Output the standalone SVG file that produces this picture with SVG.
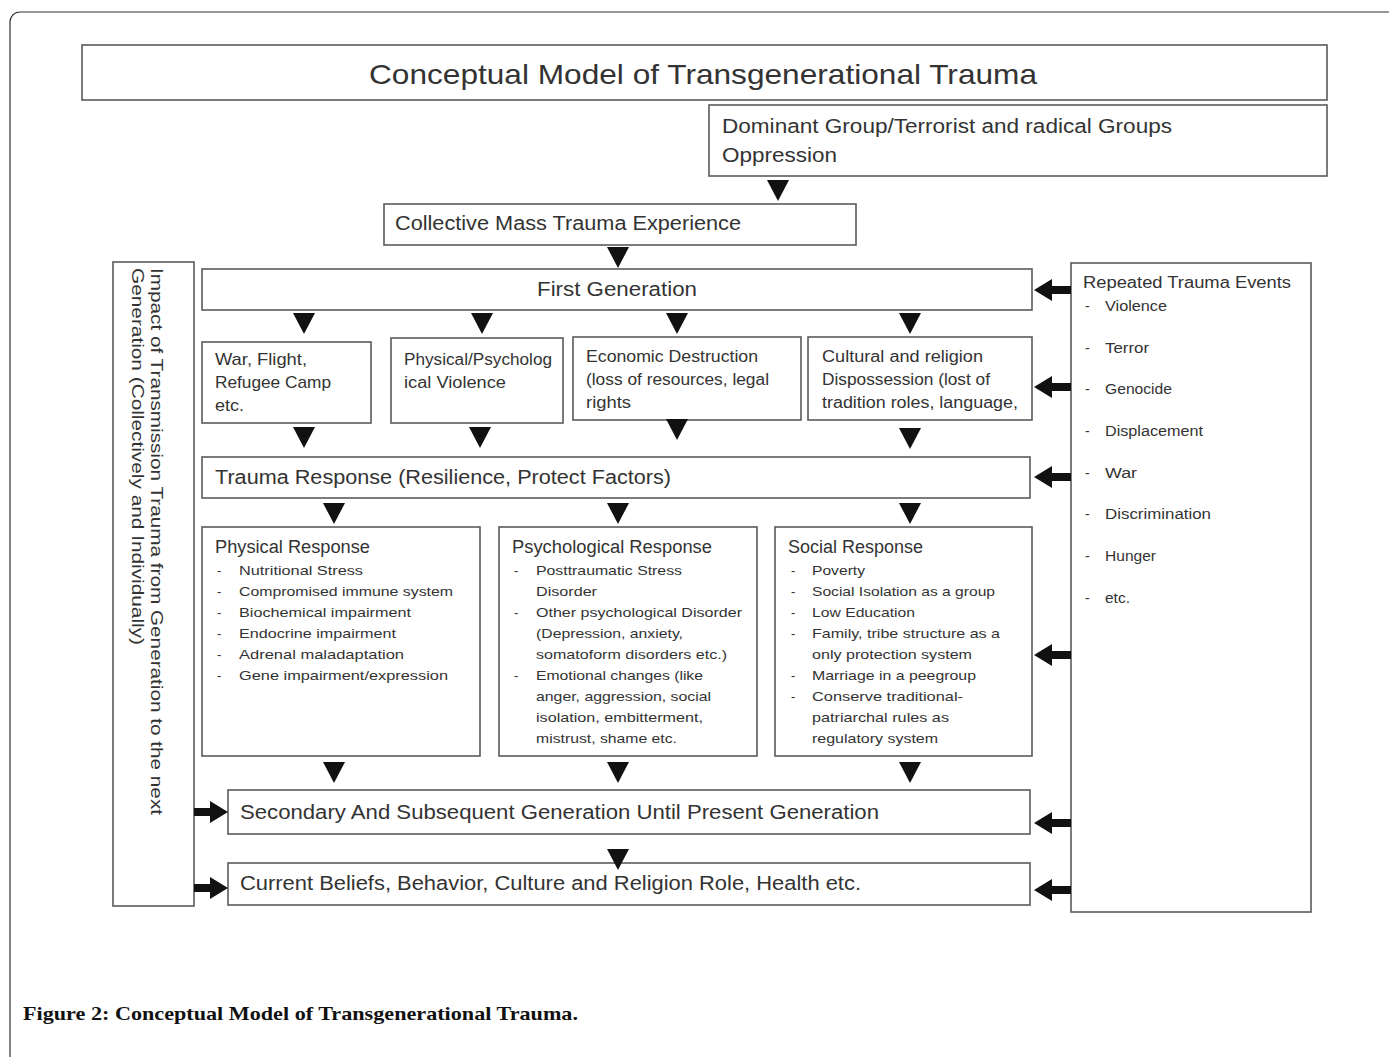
<svg xmlns="http://www.w3.org/2000/svg" xmlns:xlink="http://www.w3.org/1999/xlink" width="1389" height="1057" viewBox="0 0 1389 1057">
<style>
.box{fill:#fff;stroke:#5a5a5a;stroke-width:1.6}
.frame{fill:#fff;stroke:#333;stroke-width:1.2}
text{font-family:"Liberation Sans",Arial,sans-serif;fill:#333}
.t28{font-size:28px}
.t20{font-size:20px}
.t18{font-size:18px}
.t17{font-size:17px}
.t16{font-size:16px}
.t14{font-size:14px}
.t13{font-size:13px}
.cap{font-family:"Liberation Serif","Times New Roman",serif;font-weight:bold;font-size:19px;fill:#111}
.arr{fill:#111}
</style>
<defs>
<path id="aDown" d="M-11,0 L11,0 L0,21 Z"/>
<path id="aLeft" d="M0,0 L18,-11 L18,-4 L37,-4 L37,4 L18,4 L18,11 Z"/>
<path id="aRight" d="M0,0 L-18,-11 L-18,-4 L-34,-4 L-34,4 L-18,4 L-18,11 Z"/>
</defs>
<rect width="1389" height="1057" fill="#fff"/>
<rect class="frame" x="10" y="12" width="1400" height="1100" rx="10"/>

<g id="title">
<rect class="box" x="82" y="45" width="1245" height="55"/>
<text class="t28" x="369" y="84" textLength="668" lengthAdjust="spacingAndGlyphs">Conceptual Model of Transgenerational Trauma</text>
</g>
<g id="dominant">
<rect class="box" x="709" y="105" width="618" height="71"/>
<text class="t20" x="722" y="133" textLength="450" lengthAdjust="spacingAndGlyphs">Dominant Group/Terrorist and radical Groups</text>
<text class="t20" x="722" y="162" textLength="115" lengthAdjust="spacingAndGlyphs">Oppression</text>
</g>
<g id="collective">
<rect class="box" x="384" y="204" width="472" height="41"/>
<text class="t20" x="395" y="230" textLength="346" lengthAdjust="spacingAndGlyphs">Collective Mass Trauma Experience</text>
</g>
<g id="impact">
<rect class="box" x="113" y="262" width="81" height="644"/>
<text class="t17" transform="translate(151,268) rotate(90)" textLength="547" lengthAdjust="spacingAndGlyphs">Impact of Transmission Trauma from Generation to the next</text>
<text class="t17" transform="translate(132,268) rotate(90)" textLength="377" lengthAdjust="spacingAndGlyphs">Generation (Collectively and Individually)</text>
</g>
<g id="first-generation">
<rect class="box" x="202" y="269" width="830" height="41"/>
<text class="t20" x="537" y="296" textLength="160" lengthAdjust="spacingAndGlyphs">First Generation</text>
</g>
<g id="war">
<rect class="box" x="202" y="342" width="169" height="81"/>
<text class="t17" x="215" y="365" textLength="92" lengthAdjust="spacingAndGlyphs">War, Flight,</text>
<text class="t17" x="215" y="388" textLength="116" lengthAdjust="spacingAndGlyphs">Refugee Camp</text>
<text class="t17" x="215" y="411" textLength="29" lengthAdjust="spacingAndGlyphs">etc.</text>
</g>
<g id="violence">
<rect class="box" x="391" y="338" width="172" height="85"/>
<text class="t16" x="404" y="365" textLength="148" lengthAdjust="spacingAndGlyphs">Physical/Psycholog</text>
<text class="t16" x="404" y="388" textLength="102" lengthAdjust="spacingAndGlyphs">ical Violence</text>
</g>
<g id="economic">
<rect class="box" x="573" y="337" width="228" height="83"/>
<text class="t16" x="586" y="362" textLength="172" lengthAdjust="spacingAndGlyphs">Economic Destruction</text>
<text class="t16" x="586" y="385" textLength="183" lengthAdjust="spacingAndGlyphs">(loss of resources, legal</text>
<text class="t16" x="586" y="408" textLength="45" lengthAdjust="spacingAndGlyphs">rights</text>
</g>
<g id="cultural">
<rect class="box" x="808" y="337" width="224" height="83"/>
<text class="t16" x="822" y="362" textLength="161" lengthAdjust="spacingAndGlyphs">Cultural and religion</text>
<text class="t16" x="822" y="385" textLength="168" lengthAdjust="spacingAndGlyphs">Dispossession (lost of</text>
<text class="t16" x="822" y="408" textLength="196" lengthAdjust="spacingAndGlyphs">tradition roles, language,</text>
</g>
<g id="trauma-response">
<rect class="box" x="202" y="457" width="828" height="41"/>
<text class="t20" x="215" y="484" textLength="456" lengthAdjust="spacingAndGlyphs">Trauma Response (Resilience, Protect Factors)</text>
</g>
<g id="physical-response">
<rect class="box" x="202" y="527" width="278" height="229"/>
<text class="t18" x="215" y="553" textLength="155" lengthAdjust="spacingAndGlyphs">Physical Response</text>
<g class="t13">
<text x="217" y="575">-</text><text x="239" y="575" textLength="124" lengthAdjust="spacingAndGlyphs">Nutritional Stress</text>
<text x="217" y="596">-</text><text x="239" y="596" textLength="214" lengthAdjust="spacingAndGlyphs">Compromised immune system</text>
<text x="217" y="617">-</text><text x="239" y="617" textLength="172" lengthAdjust="spacingAndGlyphs">Biochemical impairment</text>
<text x="217" y="638">-</text><text x="239" y="638" textLength="157" lengthAdjust="spacingAndGlyphs">Endocrine impairment</text>
<text x="217" y="659">-</text><text x="239" y="659" textLength="165" lengthAdjust="spacingAndGlyphs">Adrenal maladaptation</text>
<text x="217" y="680">-</text><text x="239" y="680" textLength="209" lengthAdjust="spacingAndGlyphs">Gene impairment/expression</text>
</g>
</g>
<g id="psychological-response">
<rect class="box" x="499" y="527" width="258" height="229"/>
<text class="t18" x="512" y="553" textLength="200" lengthAdjust="spacingAndGlyphs">Psychological Response</text>
<g class="t13">
<text x="514" y="575">-</text><text x="536" y="575" textLength="146" lengthAdjust="spacingAndGlyphs">Posttraumatic Stress</text>
<text x="536" y="596" textLength="61" lengthAdjust="spacingAndGlyphs">Disorder</text>
<text x="514" y="617">-</text><text x="536" y="617" textLength="206" lengthAdjust="spacingAndGlyphs">Other psychological Disorder</text>
<text x="536" y="638" textLength="147" lengthAdjust="spacingAndGlyphs">(Depression, anxiety,</text>
<text x="536" y="659" textLength="191" lengthAdjust="spacingAndGlyphs">somatoform disorders etc.)</text>
<text x="514" y="680">-</text><text x="536" y="680" textLength="167" lengthAdjust="spacingAndGlyphs">Emotional changes (like</text>
<text x="536" y="701" textLength="175" lengthAdjust="spacingAndGlyphs">anger, aggression, social</text>
<text x="536" y="722" textLength="167" lengthAdjust="spacingAndGlyphs">isolation, embitterment,</text>
<text x="536" y="743" textLength="141" lengthAdjust="spacingAndGlyphs">mistrust, shame etc.</text>
</g>
</g>
<g id="social-response">
<rect class="box" x="775" y="527" width="257" height="229"/>
<text class="t18" x="788" y="553" textLength="135" lengthAdjust="spacingAndGlyphs">Social Response</text>
<g class="t13">
<text x="791" y="575">-</text><text x="812" y="575" textLength="53" lengthAdjust="spacingAndGlyphs">Poverty</text>
<text x="791" y="596">-</text><text x="812" y="596" textLength="183" lengthAdjust="spacingAndGlyphs">Social Isolation as a group</text>
<text x="791" y="617">-</text><text x="812" y="617" textLength="103" lengthAdjust="spacingAndGlyphs">Low Education</text>
<text x="791" y="638">-</text><text x="812" y="638" textLength="188" lengthAdjust="spacingAndGlyphs">Family, tribe structure as a</text>
<text x="812" y="659" textLength="160" lengthAdjust="spacingAndGlyphs">only protection system</text>
<text x="791" y="680">-</text><text x="812" y="680" textLength="164" lengthAdjust="spacingAndGlyphs">Marriage in a peegroup</text>
<text x="791" y="701">-</text><text x="812" y="701" textLength="151" lengthAdjust="spacingAndGlyphs">Conserve traditional-</text>
<text x="812" y="722" textLength="137" lengthAdjust="spacingAndGlyphs">patriarchal rules as</text>
<text x="812" y="743" textLength="126" lengthAdjust="spacingAndGlyphs">regulatory system</text>
</g>
</g>
<g id="secondary">
<rect class="box" x="228" y="790" width="802" height="44"/>
<text class="t20" x="240" y="819" textLength="639" lengthAdjust="spacingAndGlyphs">Secondary And Subsequent Generation Until Present Generation</text>
</g>
<g id="current">
<rect class="box" x="228" y="863" width="802" height="42"/>
<text class="t20" x="240" y="890" textLength="621" lengthAdjust="spacingAndGlyphs">Current Beliefs, Behavior, Culture and Religion Role, Health etc.</text>
</g>
<g id="repeated">
<rect class="box" x="1071" y="263" width="240" height="649"/>
<text class="t16" x="1083" y="288" textLength="208" lengthAdjust="spacingAndGlyphs">Repeated Trauma Events</text>
<g class="t14">
<text x="1085" y="311">-</text><text x="1105" y="311" textLength="62" lengthAdjust="spacingAndGlyphs">Violence</text>
<text x="1085" y="353">-</text><text x="1105" y="353" textLength="44" lengthAdjust="spacingAndGlyphs">Terror</text>
<text x="1085" y="394">-</text><text x="1105" y="394" textLength="67" lengthAdjust="spacingAndGlyphs">Genocide</text>
<text x="1085" y="436">-</text><text x="1105" y="436" textLength="98" lengthAdjust="spacingAndGlyphs">Displacement</text>
<text x="1085" y="478">-</text><text x="1105" y="478" textLength="32" lengthAdjust="spacingAndGlyphs">War</text>
<text x="1085" y="519">-</text><text x="1105" y="519" textLength="106" lengthAdjust="spacingAndGlyphs">Discrimination</text>
<text x="1085" y="561">-</text><text x="1105" y="561" textLength="51" lengthAdjust="spacingAndGlyphs">Hunger</text>
<text x="1085" y="603">-</text><text x="1105" y="603" textLength="25" lengthAdjust="spacingAndGlyphs">etc.</text>
</g>
</g>

<g id="connectors" class="arr">
<use xlink:href="#aDown" x="778" y="180"/>
<use xlink:href="#aDown" x="618" y="247"/>
<use xlink:href="#aDown" x="304" y="313"/>
<use xlink:href="#aDown" x="482" y="313"/>
<use xlink:href="#aDown" x="677" y="313"/>
<use xlink:href="#aDown" x="910" y="313"/>
<use xlink:href="#aDown" x="304" y="427"/>
<use xlink:href="#aDown" x="480" y="427"/>
<use xlink:href="#aDown" x="677" y="419"/>
<use xlink:href="#aDown" x="910" y="428"/>
<use xlink:href="#aDown" x="334" y="503"/>
<use xlink:href="#aDown" x="618" y="503"/>
<use xlink:href="#aDown" x="910" y="503"/>
<use xlink:href="#aDown" x="334" y="762"/>
<use xlink:href="#aDown" x="618" y="762"/>
<use xlink:href="#aDown" x="910" y="762"/>
<use xlink:href="#aDown" x="618" y="849"/>
<use xlink:href="#aLeft" x="1034" y="290"/>
<use xlink:href="#aLeft" x="1034" y="387"/>
<use xlink:href="#aLeft" x="1034" y="477"/>
<use xlink:href="#aLeft" x="1034" y="655"/>
<use xlink:href="#aLeft" x="1034" y="823"/>
<use xlink:href="#aLeft" x="1034" y="890"/>
<use xlink:href="#aRight" x="228" y="812"/>
<use xlink:href="#aRight" x="228" y="888"/>
</g>

<text class="cap" x="23" y="1020" textLength="555" lengthAdjust="spacingAndGlyphs">Figure 2: Conceptual Model of Transgenerational Trauma.</text>
</svg>
